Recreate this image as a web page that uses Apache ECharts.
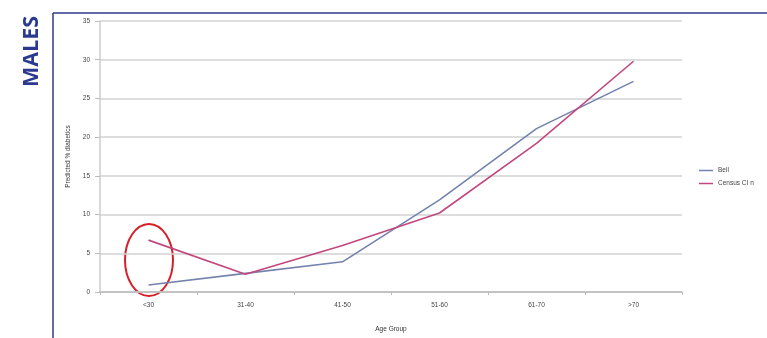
<!DOCTYPE html>
<html lang="en">
<head>
    <meta charset="UTF-8">
    <title>Males</title>
    <style>
        html, body { margin: 0; padding: 0; background: #fff; }
        #chart { width: 767px; height: 338px; }
    </style>
    <script src="https://cdn.jsdelivr.net/npm/echarts@6/dist/echarts.min.js"></script>
</head>
<body>
<div id="chart"></div>
<script>
    // values
    var ageGroups = ['<30', '31-40', '41-50', '51-60', '61-70', '>70'];
    var bellValues = [0.9, 2.4, 3.9, 11.9, 21.1, 27.2];
    var censusValues = [6.7, 2.3, 6.0, 10.2, 19.2, 29.8];
    var seriesNames = ['Bell', 'Census CI n'];

    var myChart = echarts.init(document.getElementById('chart'));
    var tinyText = { color: '#444', fontSize: 6.5, fontFamily: 'Liberation Sans' };

    var option = {
        backgroundColor: '#fff',
        animation: false,
        grid: { left: 100, right: 85, top: 21, bottom: 40 },
        legend: {
            orient: 'vertical',
            left: 694,
            top: 162,
            itemGap: 6,
            itemWidth: 14,
            itemHeight: 1.5,
            icon: 'rect',
            textStyle: tinyText,
            data: seriesNames
        },
        xAxis: {
            type: 'category',
            data: ageGroups,
            boundaryGap: true,
            name: 'Age Group',
            nameLocation: 'middle',
            nameGap: 34,
            nameTextStyle: { color: '#333', fontSize: 6.5, fontFamily: 'Liberation Sans' },
            axisLine: { lineStyle: { color: '#bbb', width: 1.5 } },
            axisTick: { show: true, length: 3, lineStyle: { color: '#bbb' } },
            axisLabel: Object.assign({ margin: 10 }, tinyText)
        },
        yAxis: {
            type: 'value',
            min: 0,
            max: 35,
            interval: 5,
            name: 'Predicted % diabetics',
            nameLocation: 'middle',
            nameGap: 28,
            nameRotate: 90,
            nameTextStyle: { color: '#333', fontSize: 6.5, fontFamily: 'Liberation Sans' },
            axisLine: { show: true, lineStyle: { color: '#ccc', width: 1.5 } },
            axisTick: { show: true, length: 5, lineStyle: { color: '#bbb' } },
            axisLabel: Object.assign({ margin: 10 }, tinyText),
            splitLine: { lineStyle: { color: '#d2d2d2', width: 1.5 } }
        },
        series: [{
            name: seriesNames[0],
            type: 'line',
            data: bellValues,
            symbol: 'none',
            color: '#7482ad',
            lineStyle: { width: 1.6 }
        }, {
            name: seriesNames[1],
            type: 'line',
            data: censusValues,
            symbol: 'none',
            color: '#c2477f',
            lineStyle: { width: 1.6 }
        }],
        graphic: [{
            type: 'line',
            shape: { x1: 53, y1: 13, x2: 767, y2: 13 },
            style: { stroke: '#2e3a87', lineWidth: 1.5 }
        }, {
            type: 'line',
            shape: { x1: 53, y1: 13, x2: 53, y2: 338 },
            style: { stroke: '#2e3a87', lineWidth: 1.5 }
        }, {
            type: 'text',
            x: 21,
            y: 87,
            rotation: Math.PI / 2,
            style: {
                text: 'MALES',
                fill: '#2b3990',
                font: 'bold 21.5px "Open Sans"',
                textVerticalAlign: 'top'
            }
        }, {
            type: 'ellipse',
            shape: { cx: 149, cy: 260, rx: 24, ry: 36 },
            style: { fill: 'none', stroke: '#d42026', lineWidth: 2 }
        }]
    };
    myChart.setOption(option);
</script>
</body>
</html>
